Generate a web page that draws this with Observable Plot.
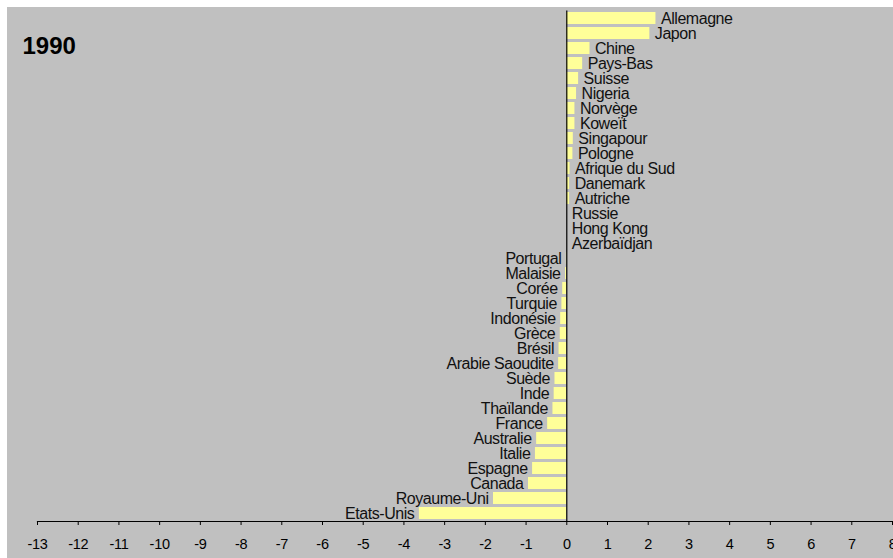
<!DOCTYPE html>
<html>
<head>
<meta charset="utf-8">
<script src="https://cdn.jsdelivr.net/npm/d3@7"></script>
<script src="https://cdn.jsdelivr.net/npm/@observablehq/plot@0.6"></script>
<style>
  html, body { margin: 0; padding: 0; background: #fff; }
  #wrap { padding: 7px 0 0 7px; width: 886px; height: 551px; }
  #wrap svg { background: #c0c0c0; display: block; }
  #wrap svg g.lbl text { letter-spacing: -0.45px; }
  #wrap svg g.tk text { letter-spacing: -0.3px; }
</style>
</head>
<body>
<div id="wrap"></div>
<script>
const countries = ["Allemagne","Japon","Chine","Pays-Bas","Suisse","Nigeria","Norvège","Koweït","Singapour","Pologne","Afrique du Sud","Danemark","Autriche","Russie","Hong Kong","Azerbaïdjan","Portugal","Malaisie","Corée","Turquie","Indonésie","Grèce","Brésil","Arabie Saoudite","Suède","Inde","Thaïlande","France","Australie","Italie","Espagne","Canada","Royaume-Uni","Etats-Unis"];
const values = [2.19,2.04,0.57,0.39,0.29,0.24,0.20,0.20,0.16,0.15,0.08,0.07,0.07,0.0,0.0,0.0,-0.01,-0.03,-0.10,-0.12,-0.15,-0.16,-0.19,-0.20,-0.29,-0.31,-0.34,-0.47,-0.74,-0.77,-0.84,-0.94,-1.80,-3.62];
const xTicks = d3.range(-13, 9);
const yearLabel = "1990";

const data = countries.map((c, i) => ({country: c, value: values[i]}));
const font = "'Liberation Sans',Arial,sans-serif";

const chart = Plot.plot({
  width: 886,
  height: 551,
  marginLeft: 30,
  marginRight: 1,
  marginTop: 3.5,
  marginBottom: 37,
  style: {background: "#c0c0c0", fontFamily: font, color: "#000"},
  x: {domain: [-13, 8]},
  y: {domain: countries, paddingInner: 0.2, paddingOuter: 0.1, axis: null},
  marks: [
    Plot.barX(data, {x: "value", y: "country", fill: "#ffff99"}),
    Plot.ruleX([0], {stroke: "#000", strokeWidth: 1.2}),
    Plot.frame({anchor: "bottom", stroke: "#000", strokeWidth: 1.2}),
    Plot.axisX({ticks: xTicks, tickFormat: d => String(d), tickSize: 4, tickPadding: 13, fontSize: 14.5, fontFamily: font, stroke: "#000", label: null, className: "tk"}),
    Plot.text(data.filter(d => d.value >= 0), {x: "value", y: "country", text: "country", textAnchor: "start", dx: 5, fontSize: 16, fontFamily: font, fill: "#111", className: "lbl"}),
    Plot.text(data.filter(d => d.value < 0), {x: "value", y: "country", text: "country", textAnchor: "end", dx: -5, fontSize: 16, fontFamily: font, fill: "#111", className: "lbl"}),
    Plot.text([yearLabel], {frameAnchor: "top-left", dx: -15, dy: 26, text: d => d, fontSize: 24, fontWeight: "bold", fontFamily: font, fill: "#000"})
  ]
});
document.getElementById("wrap").appendChild(chart);
</script>
</body>
</html>
